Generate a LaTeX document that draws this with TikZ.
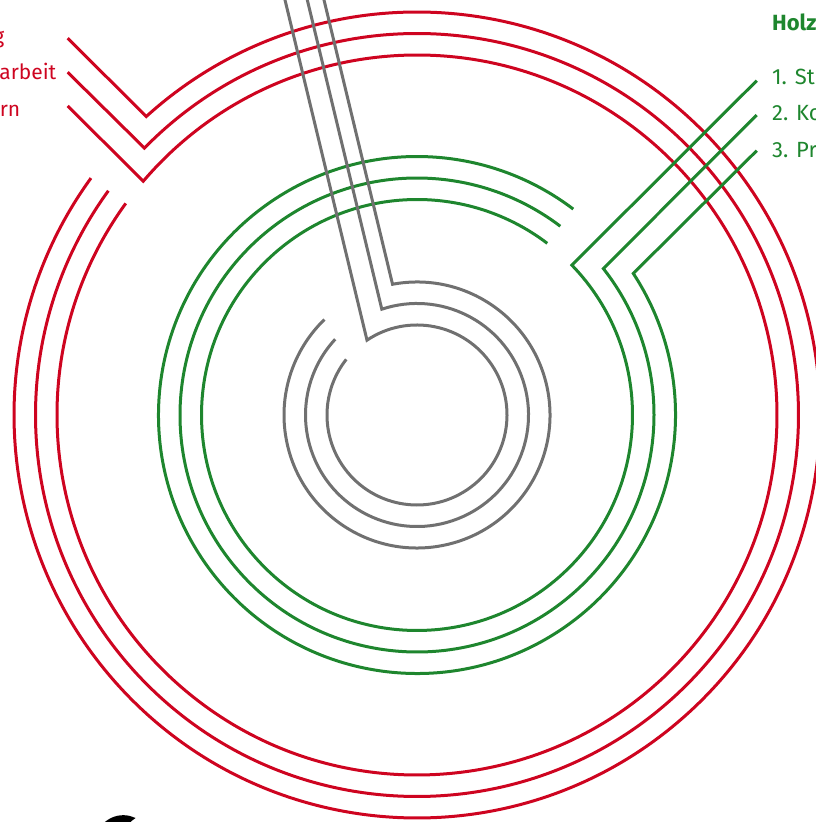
\documentclass[tikz,border=0pt]{standalone}
\usepackage{fontspec}
\setmainfont{Fira Sans}
\usetikzlibrary{calc}
\definecolor{ringred}{RGB}{206,4,32}
\definecolor{ringgreen}{RGB}{30,134,46}
\definecolor{ringgray}{RGB}{112,112,112}
\tikzset{
  ring/.style={line width=3pt, line join=miter, line cap=butt},
  redring/.style={ring, draw=ringred},
  greenring/.style={ring, draw=ringgreen},
  grayring/.style={ring, draw=ringgray},
  redlabel/.style={text=ringred, font=\fontsize{21}{24}\selectfont, inner sep=0pt, anchor=base east},
  greenlabel/.style={text=ringgreen, font=\fontsize{22}{26}\selectfont, inner sep=0pt, anchor=base west},
  greenhead/.style={text=ringgreen, font=\bfseries\fontsize{22}{26}\selectfont, inner sep=0pt, anchor=base west},
}
\begin{document}
\begin{tikzpicture}[x=1pt,y=1pt]
\useasboundingbox (0,0) rectangle (816,822);
\clip (0,0) rectangle (816,822);
\coordinate (C) at (417,407);

% ---- red group ----
\node[redlabel] (r1t) at (4.5,778.7) {g};
\node[redlabel] (r2t) at (56.5,742.7) {arbeit};
\node[redlabel] (r3t) at (20.5,705.7) {rn};
\coordinate (r1s) at (67.7,783.7);
\coordinate (r2s) at (67.7,749.7);
\coordinate (r3s) at (67.7,716);
\coordinate (r1v) at ($(C)+(132.2:403)$);
\coordinate (r2v) at ($(C)+(135.6:381.5)$);
\coordinate (r3v) at ($(C)+(139.5:360)$);
\draw[redring] (r1s) -- (r1v) arc[start angle=132.2, end angle=-216, radius=403];
\draw[redring] (r2s) -- (r2v) arc[start angle=135.6, end angle=-216, radius=381.5];
\draw[redring] (r3s) -- (r3v) arc[start angle=139.5, end angle=-216, radius=360];

% ---- green group ----
\node[greenhead] (gh) at (772,791) {Holz};
\node[greenlabel] (g1t) at (772,737.7) {1. St};
\node[greenlabel] (g2t) at (772,701) {2. Ko};
\node[greenlabel] (g3t) at (772,664.5) {3. Pr};
\coordinate (g1s) at (756.7,741.3);
\coordinate (g2s) at (756.7,707);
\coordinate (g3s) at (756.7,671.3);
\coordinate (g1v) at ($(C)+(44.06:215.5)$);
\coordinate (g2v) at ($(C)+(38.15:237)$);
\coordinate (g3v) at ($(C)+(33.2:258.5)$);
\draw[greenring] (g1s) -- (g1v) arc[start angle=44.06, end angle=-307.2, radius=215.5];
\draw[greenring] (g2s) -- (g2v) arc[start angle=38.15, end angle=-307.2, radius=237];
\draw[greenring] (g3s) -- (g3v) arc[start angle=33.2, end angle=-307.2, radius=258.5];

% ---- gray group ----
\coordinate (k1s) at (282.6,832);
\coordinate (k2s) at (304.9,832);
\coordinate (k3s) at (321.6,832);
\coordinate (k1v) at ($(C)+(123.75:90)$);
\coordinate (k2v) at ($(C)+(108.4:111.5)$);
\coordinate (k3v) at ($(C)+(100.6:133)$);
\draw[grayring] (k1s) -- (k1v) arc[start angle=123.75, end angle=-218.2, radius=90];
\draw[grayring] (k2s) -- (k2v) arc[start angle=108.4, end angle=-222.8, radius=111.5];
\draw[grayring] (k3s) -- (k3v) arc[start angle=100.6, end angle=-225.9, radius=133];

% ---- black shape cut by the lower edge ----
\fill[black] (99,-6) .. controls (107,4) and (116,7) .. (124,6.8)
  .. controls (129,6.6) and (132,5.5) .. (135.5,4)
  .. controls (132,2.5) and (130,0) .. (128,-6) -- cycle;
\end{tikzpicture}
\end{document}
